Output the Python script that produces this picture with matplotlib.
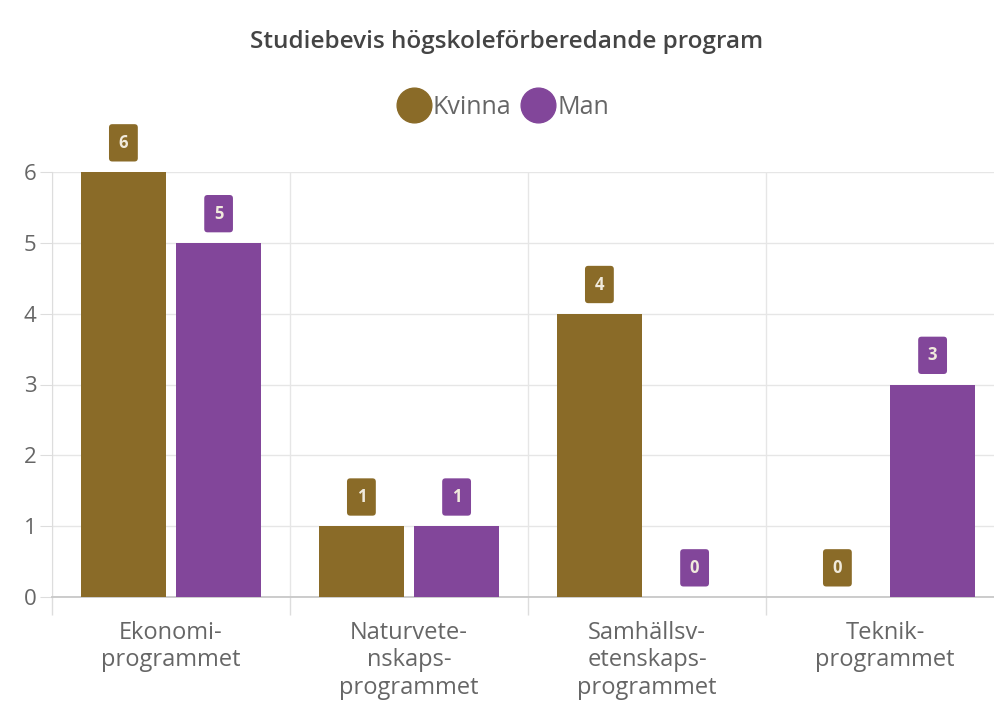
import matplotlib.pyplot as plt
from matplotlib.lines import Line2D
import numpy as np

plt.rcParams['font.family'] = ['Open Sans', 'DejaVu Sans']

# Data
kategorier = ["Ekonomi-\nprogrammet", "Naturvete-\nnskaps-\nprogrammet",
              "Samhällsv-\netenskaps-\nprogrammet", "Teknik-\nprogrammet"]
kvinna = [6, 1, 4, 0]
man = [5, 1, 0, 3]
serier = ["Kvinna", "Man"]
farger = ["#8a6b28", "#82469a"]

fig = plt.figure(figsize=(9.94, 7.09), dpi=100)
ax = fig.add_axes([52 / 994, 1 - 597 / 709, 952 / 994, 425 / 709])

x = np.arange(len(kategorier))
bredd = 0.36
for vals, off, col in [(kvinna, -0.2, farger[0]), (man, 0.2, farger[1])]:
    bars = ax.bar(x + off, vals, bredd, color=col, zorder=3)
    for b, v in zip(bars, vals):
        ax.annotate(str(v), (b.get_x() + b.get_width() / 2, v),
                    xytext=(0, 21), textcoords="offset points",
                    ha="center", va="center", fontsize=12, fontweight="bold",
                    color="#f0eadc", annotation_clip=False, zorder=4,
                    bbox=dict(boxstyle="round,pad=0.58,rounding_size=0.2",
                              fc=col, ec="none"))

ax.set_xlim(-0.5, 3.5)
ax.set_ylim(0, 6)
ax.set_yticks(range(7))
ax.set_xticks(x)
ax.set_xticklabels(kategorier, fontsize=17, color="#666666", linespacing=1.2)
ax.set_xticks([-0.5, 0.5, 1.5, 2.5], minor=True)
ax.tick_params(axis="x", which="major", length=0, pad=17)
ax.tick_params(axis="x", which="minor", length=13, color="#dddddd", width=1)
ax.tick_params(axis="y", length=9, color="#dddddd", labelsize=16,
               labelcolor="#666666", pad=2)
ax.grid(axis="y", color="#e6e6e6", lw=1, zorder=0)
ax.grid(axis="x", which="minor", color="#e6e6e6", lw=1, zorder=0)
for s in ["top", "right"]:
    ax.spines[s].set_visible(False)
ax.spines["left"].set_color("#dddddd")
ax.spines["bottom"].set_color("#c8c8c8")
ax.spines["bottom"].set_linewidth(1.3)

fig.text(507 / 994, 1 - 42 / 709, "Studiebevis högskoleförberedande program",
         ha="center", va="center", fontsize=17.5, color="#444444",
         fontweight="semibold")

handles = [Line2D([], [], ls="none", marker="o", ms=25, color=c) for c in farger]
fig.legend(handles, serier, loc="center", bbox_to_anchor=(505 / 994, 1 - 107 / 709),
           ncol=2, frameon=False, fontsize=18, labelcolor="#666666",
           handletextpad=0.25, columnspacing=0.6, handlelength=1.0)

fig.savefig("out.png", dpi=100)
